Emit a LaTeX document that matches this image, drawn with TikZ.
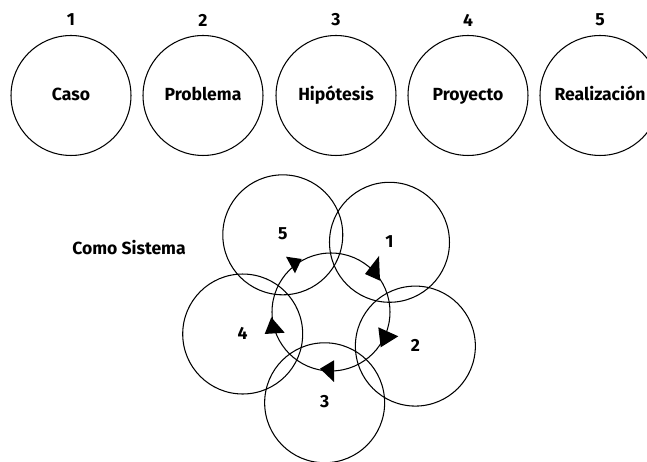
\documentclass[tikz,border=0pt]{standalone}
\usepackage{fontspec}
\setmainfont{Fira Sans}
\usetikzlibrary{positioning}
\tikzset{
  etapa/.style={draw, circle, line width=0.6pt, minimum size=2.4cm,
    inner sep=0pt, text height=1.6ex, text depth=0.5ex, font=\bfseries},
  numero/.style={font=\bfseries},
}
\begin{document}
\begin{tikzpicture}[x=0.02cm, y=0.02cm, line width=0.6pt]
    \useasboundingbox (0,0) rectangle (647,-462);

    % fila de etapas
    \foreach \x/\i/\txt in {71/1/Caso, 203/2/Problema, 336/3/Hipótesis,
      468/4/Proyecto, 600/5/Realización}
    {
      \node[etapa] (fase\i) at (\x,-95.5) {\txt};
      \node[numero] (num\i) at (\x,-20) {\i};
    }

    % como sistema
    \node[numero] (como) at (129,-248) {Como Sistema};
    \coordinate (centro) at (331,-312);
    \draw (centro) circle [radius=1.18cm];
    \foreach \k/\a in {1/50, 2/-22, 3/-94, 4/-166, 5/122}
      \node[etapa] (sis\k) at ([shift={(\a:91)}]centro) {\k};

    \fill (286,-256.7) -- (301.7,-259) -- (295,-273.3) -- cycle;
    \fill (379,-256) -- (365,-274) -- (380,-280.7) -- cycle;
    \fill (378.3,-327.3) -- (398.3,-336.3) -- (380.7,-347.3) -- cycle;
    \fill (320,-368.7) -- (334,-360.3) -- (334,-382) -- cycle;
    \fill (271.3,-317.3) -- (284.7,-332.7) -- (264.7,-334) -- cycle;

\end{tikzpicture}
\end{document}
